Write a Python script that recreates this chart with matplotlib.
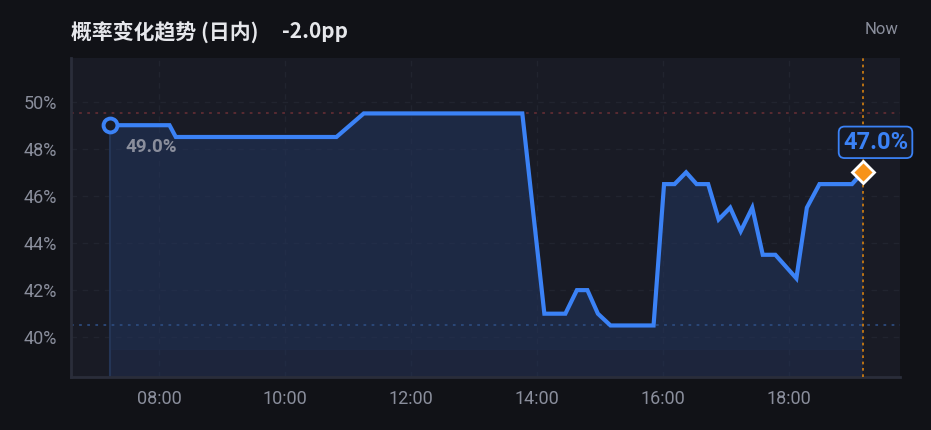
import matplotlib
matplotlib.use("Agg")
import matplotlib.pyplot as plt

plt.rcParams['font.family'] = ['Roboto', 'Noto Sans CJK SC', 'DejaVu Sans']

# data
times = ["07:13", "08:10", "08:16", "10:49", "11:15", "13:46", "14:07", "14:27",
         "14:38", "14:48", "14:58", "15:10", "15:51", "16:01", "16:11", "16:22",
         "16:32", "16:43", "16:53", "17:04", "17:14", "17:25", "17:35", "17:47",
         "18:07", "18:17", "18:29", "19:00", "19:10"]
probs = [49.0, 49.0, 48.5, 48.5, 49.5, 49.5, 41.0, 41.0, 42.0, 42.0, 41.0, 40.5,
         40.5, 46.5, 46.5, 47.0, 46.5, 46.5, 45.0, 45.5, 44.5, 45.5, 43.5, 43.5,
         42.5, 45.5, 46.5, 46.5, 47.0]
tick_times = ["08:00", "10:00", "12:00", "14:00", "16:00", "18:00"]
y_ticks = [40, 42, 44, 46, 48, 50]
title = "概率变化趋势 (日内)"
change = "-2.0pp"


def to_min(s):
    h, m = s.split(":")
    return int(h) * 60 + int(m)


x = [to_min(t) for t in times]
xt = [to_min(t) for t in tick_times]

BG = '#111217'
AX_BG = '#191b25'
BLUE = '#3b82f6'
ORANGE = '#f7931a'
GREY = '#8a8e9c'

fig = plt.figure(figsize=(9.31, 4.30), dpi=100, facecolor=BG)
ax = fig.add_axes([71 / 931, 1 - 377.3 / 430, (900 - 71) / 931, (377.3 - 58.3) / 430])
ax.set_facecolor(AX_BG)

ax.set_xlim(396.2, 1185.7)
ax.set_ylim(38.30, 51.84)

# grid
for v in xt:
    ax.axvline(v, color='#21242f', lw=1, ls=(0, (4, 4)), zorder=1)
for v in y_ticks:
    ax.axhline(v, color='#21242f', lw=1, ls=(0, (4, 4)), zorder=1)

# area under the line
base = min(probs) - 1
ax.fill_between(x, probs, base, color='#22355e', alpha=0.55, lw=0, zorder=2)
ax.fill_between(x, base, 38.30, color='#22335a', alpha=0.45, lw=0, zorder=2)
ax.plot([x[0], x[0]], [38.30, probs[0]], color='#243556', lw=1.5, zorder=2)

# max / min reference lines
ax.axhline(max(probs), color='#5e2c33', lw=1.3, ls=(0, (1.5, 3)), zorder=2)
ax.axhline(min(probs), color='#2c4a7c', lw=1.3, ls=(0, (1.5, 3)), zorder=2)

# "now" marker line
ax.axvline(x[-1], color='#c97a12', lw=1.3, ls=(0, (1.5, 2)), zorder=3)

ax.plot(x, probs, color=BLUE, lw=3, solid_joinstyle='miter', zorder=4)
ax.plot(x[0], probs[0], 'o', ms=10, mfc=AX_BG, mec=BLUE, mew=2.8, zorder=5)
ax.plot(x[-1], probs[-1], 'D', ms=11.5, mfc=ORANGE, mec='white', mew=2, zorder=6,
        clip_on=False)

ax.annotate(f"{probs[0]:.1f}%", (x[0], probs[0]), xytext=(16, -22),
            textcoords='offset pixels', ha='left', va='center',
            fontsize=13.5, fontweight='bold', color=GREY, zorder=6)
ax.annotate(f"{probs[-1]:.1f}%", (x[-1], probs[-1]), xytext=(13, 30),
            textcoords='offset pixels', ha='center', va='center',
            fontsize=17, fontweight='bold', color=BLUE, zorder=7,
            annotation_clip=False,
            bbox=dict(boxstyle='round,pad=0.18,rounding_size=0.25',
                      fc='#161a26', ec=BLUE, lw=1.3))

ax.set_xticks(xt)
ax.set_xticklabels(tick_times)
ax.set_yticks(y_ticks)
ax.set_yticklabels([f"{v}%" for v in y_ticks])
ax.tick_params(length=0, colors=GREY, labelsize=13)
ax.tick_params(axis='y', pad=10)
ax.tick_params(axis='x', pad=9)

for side in ['top', 'right']:
    ax.spines[side].set_visible(False)
for side in ['left', 'bottom']:
    ax.spines[side].set_color('#2a2d3a')
    ax.spines[side].set_linewidth(2)

fig.text(71 / 931, 1 - 32 / 430, title, fontsize=15, fontweight='bold',
         color='#e6e7eb', ha='left', va='center',
         family=['Noto Sans CJK SC', 'DejaVu Sans'])
fig.text(282 / 931, 1 - 32 / 430, change, fontsize=15, fontweight='bold',
         color='#e6e7eb', ha='left', va='center',
         family=['Noto Sans CJK SC', 'DejaVu Sans'])
fig.text(899 / 931, 1 - 30 / 430, "Now", fontsize=12, color=GREY,
         ha='right', va='center')

fig.savefig("out.png", dpi=100, facecolor=BG)
